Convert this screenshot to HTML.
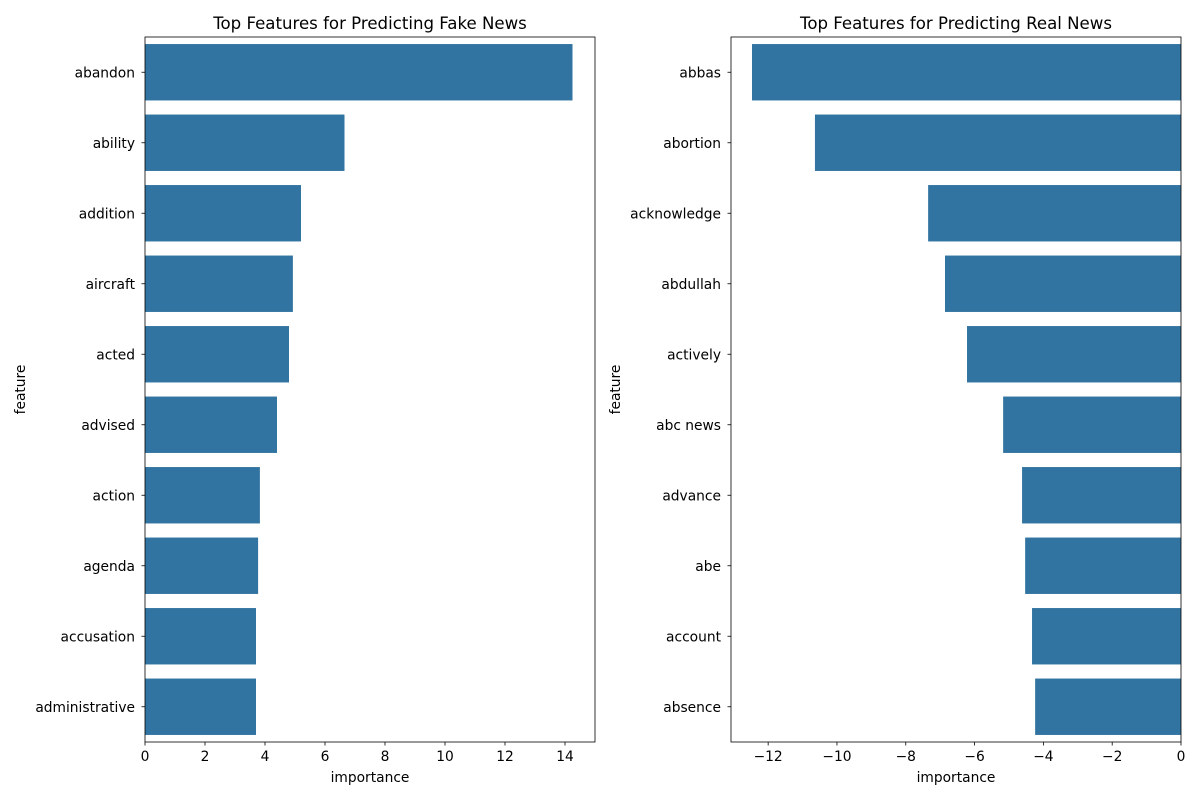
<!DOCTYPE html>
<html><head><meta charset="utf-8"><style>
body{margin:0;background:#fff;font-family:"Liberation Sans","DejaVu Sans",sans-serif;}
svg text{font-family:"DejaVu Sans","Liberation Sans",sans-serif;}
</style></head><body>
<svg id="chart" width="1200" height="800" xmlns="http://www.w3.org/2000/svg"></svg>
<script>
const fakeCategories=["abandon","ability","addition","aircraft","acted","advised","action","agenda","accusation","administrative"];
const fakeValues=[14.25,6.65,5.2,4.93,4.8,4.4,3.83,3.77,3.7,3.7];
const fakeTicks=[0,2,4,6,8,10,12,14];
const realCategories=["abbas","abortion","acknowledge","abdullah","actively","abc news","advance","abe","account","absence"];
const realValues=[-12.47,-10.64,-7.35,-6.86,-6.22,-5.17,-4.62,-4.53,-4.33,-4.24];
const realTicks=[-12,-10,-8,-6,-4,-2,0];

const svg=document.getElementById('chart');
const NS='http://www.w3.org/2000/svg';
const FS=13.8;
function mk(tag,attrs,parent){const e=document.createElementNS(NS,tag);for(const k in attrs)e.setAttribute(k,attrs[k]);(parent||svg).appendChild(e);return e;}

function panel(opt){
  const g=mk('g',{});
  
  
  const L=opt.left,R=opt.right,T=37,B=742;
  const xs=v=>L+(v-opt.xmin)/(opt.xmax-opt.xmin)*(R-L);
  const n=opt.cats.length,band=(B-T)/n;
  opt.cats.forEach((c,i)=>{
    const v=opt.vals[i];
    const x0=xs(Math.min(0,v)),x1=xs(Math.max(0,v));
    const r=mk('rect',{x:x0,y:T+band*i+band*0.1,width:x1-x0,height:band*0.8,fill:'#3274a1'},g);
    
    
    mk('line',{x1:L,x2:L-3.5,y1:T+band*(i+0.5),y2:T+band*(i+0.5),stroke:'#000','stroke-width':0.8},g);
    const t=mk('text',{x:L-10,y:T+band*(i+0.5)+5,'text-anchor':'end','font-size':FS,fill:'#000'},g);
    t.textContent=c;
    
    
  });
  opt.ticks.forEach(v=>{
    const x=xs(v);
    mk('line',{x1:x,x2:x,y1:B,y2:B+3.5,stroke:'#000','stroke-width':0.8},g);
    const t=mk('text',{x:x,y:B+19,'text-anchor':'middle','font-size':FS,fill:'#000'},g);
    t.textContent=v<0?'\u2212'+Math.abs(v):String(v);
    
    
  });
  mk('rect',{x:L,y:T,width:R-L,height:B-T,fill:'none',stroke:'#000','stroke-width':0.8},g);
  const title=mk('text',{x:(L+R)/2,y:29,'text-anchor':'middle','font-size':16.6,fill:'#000'},g);
  title.textContent=opt.title;
  
  
  const xl=mk('text',{x:(L+R)/2,y:782,'text-anchor':'middle','font-size':FS,fill:'#000'},g);
  xl.textContent='importance';
  
  
  const yx=opt.ylabelX;
  const yl=mk('text',{x:yx,y:(T+B)/2,'text-anchor':'middle','font-size':FS,fill:'#000',transform:`rotate(-90 ${yx} ${(T+B)/2})`},g);
  yl.textContent='feature';
  
  
}
panel({name:'fake-news-panel',left:145,right:595,xmin:0,xmax:15,cats:fakeCategories,vals:fakeValues,ticks:fakeTicks,title:'Top Features for Predicting Fake News',ylabelX:25});
panel({name:'real-news-panel',left:731,right:1181,xmin:-13.08,xmax:0,cats:realCategories,vals:realValues,ticks:realTicks,title:'Top Features for Predicting Real News',ylabelX:620});
</script>
</body></html>
